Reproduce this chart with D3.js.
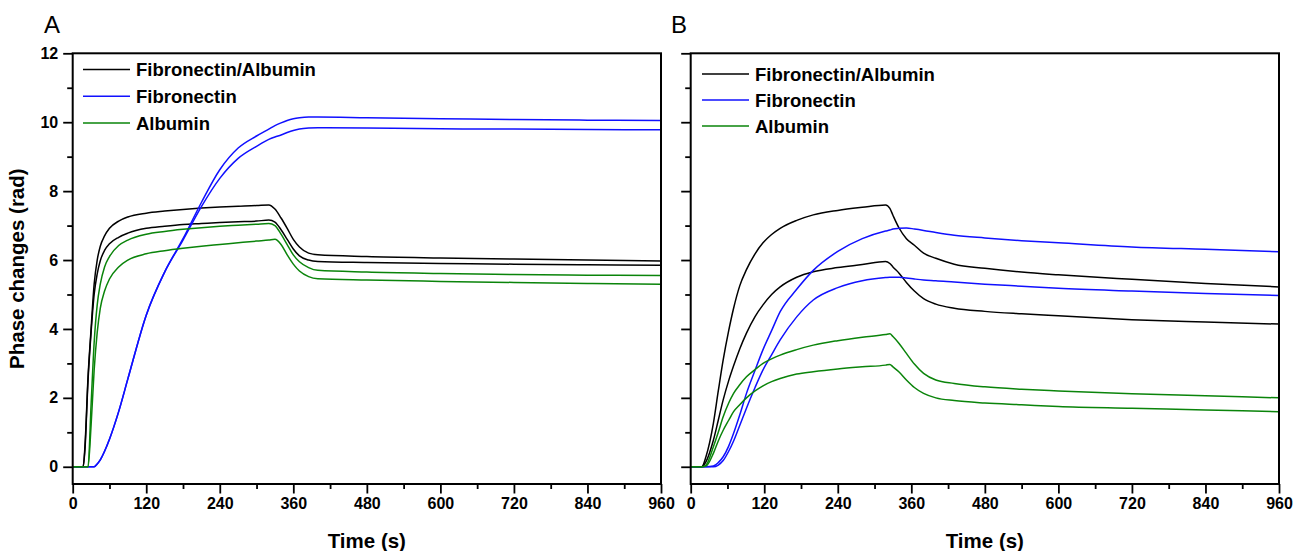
<!DOCTYPE html>
<html><head><meta charset="utf-8">
<script src="https://cdn.jsdelivr.net/npm/d3@7/dist/d3.min.js"></script>
<style>
body{margin:0;background:#fff}
text{font-family:"Liberation Sans",Arial,sans-serif}
</style>
</head><body>
<svg id="c" width="1294" height="551"></svg>
<script>
// ---------------- data ----------------
const seriesNames = ["Fibronectin/Albumin", "Fibronectin", "Albumin"];
const seriesColors = ["#000000", "#1010ff", "#0a840a"];
const xMajorTicks = [0, 120, 240, 360, 480, 600, 720, 840, 960];
const xMinorTicks = [60, 180, 300, 420, 540, 660, 780, 900];
const yMajorTicks = [0, 2, 4, 6, 8, 10, 12];
const yMinorTicks = [1, 3, 5, 7, 9, 11];
const panelLabels = ["A", "B"];
const xTitle = "Time (s)";
const yTitle = "Phase changes (rad)";

// Panel A
const timeA = [0,17,20,25,30,35,40,45,52,60,75,90,120,150,180,210,240,270,300,320,330,340,350,360,370,385,400,480,600,720,840,960];
const fibAlbA1 = [0,0,0.6,2.6,4.0,5.3,6.0,6.4,6.7,6.92,7.13,7.25,7.36,7.42,7.47,7.51,7.54,7.56,7.58,7.6,7.48,7.22,6.92,6.6,6.38,6.2,6.15,6.1,6.06,6.03,6.0,5.97];
const fibAlbA2 = [0,0,0.5,2.5,3.9,5.0,5.6,5.98,6.28,6.47,6.66,6.78,6.92,6.98,7.03,7.06,7.09,7.11,7.13,7.16,7.1,6.88,6.6,6.32,6.12,6.0,5.96,5.93,5.9,5.88,5.86,5.85];
const fibA1 = [0,0,0,0,0,0,0.08,0.2,0.45,0.8,1.6,2.55,4.4,5.65,6.62,7.67,8.62,9.25,9.6,9.8,9.9,9.98,10.05,10.1,10.13,10.15,10.15,10.13,10.1,10.08,10.06,10.05];
const fibA2 = [0,0,0,0,0,0,0.08,0.2,0.45,0.8,1.6,2.55,4.4,5.65,6.58,7.55,8.37,8.95,9.3,9.5,9.57,9.63,9.7,9.76,9.8,9.83,9.84,9.83,9.81,9.8,9.79,9.78];
const albA1 = [0,0,0,0,1.8,3.6,4.7,5.3,5.8,6.1,6.42,6.58,6.75,6.83,6.89,6.94,6.98,7.01,7.04,7.06,7.0,6.75,6.45,6.15,5.95,5.78,5.7,5.65,5.61,5.58,5.56,5.55];
const albA2 = [0,0,0,0,1.2,2.8,3.9,4.6,5.1,5.45,5.8,6.0,6.18,6.27,6.34,6.4,6.45,6.5,6.55,6.58,6.6,6.45,6.15,5.88,5.68,5.52,5.46,5.42,5.38,5.35,5.32,5.3];

// Panel B
const timeB = [0,18,25,37,45,53,62,70,80,91,105,118,132,146,173,200,240,280,318,325,330,340,352,365,380,400,430,480,540,600,720,840,960];
const fibAlbB1 = [0,0,0.3,1.26,2.2,3.1,3.95,4.6,5.25,5.72,6.18,6.5,6.74,6.92,7.15,7.31,7.44,7.53,7.6,7.5,7.3,6.93,6.62,6.43,6.2,6.05,5.88,5.76,5.65,5.57,5.44,5.32,5.22];
const fibAlbB2 = [0,0,0.15,0.77,1.35,1.94,2.5,2.93,3.42,3.88,4.36,4.7,5.0,5.22,5.5,5.66,5.78,5.87,5.96,5.9,5.8,5.62,5.35,5.1,4.88,4.72,4.6,4.51,4.44,4.38,4.27,4.2,4.14];
const fibB1 = [0,0,0,0.02,0.12,0.29,0.6,0.97,1.5,2.13,2.8,3.4,3.95,4.5,5.15,5.7,6.25,6.62,6.84,6.87,6.9,6.92,6.93,6.9,6.86,6.8,6.72,6.64,6.56,6.5,6.38,6.31,6.24];
const fibB2 = [0,0,0,0,0.05,0.18,0.45,0.75,1.2,1.7,2.3,2.81,3.25,3.68,4.35,4.84,5.2,5.4,5.49,5.5,5.5,5.5,5.48,5.45,5.42,5.4,5.36,5.3,5.24,5.18,5.1,5.03,4.97];
const albB1 = [0,0,0.05,0.58,1.0,1.45,1.85,2.13,2.38,2.61,2.82,3.0,3.13,3.24,3.4,3.53,3.66,3.76,3.84,3.86,3.78,3.58,3.29,2.98,2.71,2.52,2.42,2.32,2.25,2.2,2.12,2.06,2.0];
const albB2 = [0,0,0.02,0.39,0.75,1.06,1.35,1.6,1.8,2.0,2.2,2.35,2.47,2.56,2.69,2.76,2.84,2.9,2.95,2.97,2.9,2.75,2.52,2.3,2.13,2.0,1.92,1.85,1.8,1.75,1.7,1.65,1.6];

// ---------------- drawing ----------------
const svg = d3.select("#c");
const yScale = d3.scaleLinear().domain([-0.5, 12]).range([484, 53.3]);

const panels = [
  {label: panelLabels[0], x0: 72.7, x1: 661, labelX: 44, yLabels: true, legendX: 83, legendY: 69.5, legendDy: 26.7,
   time: timeA, series: [[fibAlbA1, 0], [fibAlbA2, 0], [fibA1, 1], [fibA2, 1], [albA1, 2], [albA2, 2]]},
  {label: panelLabels[1], x0: 690.7, x1: 1279, labelX: 671, yLabels: false, legendX: 702, legendY: 74, legendDy: 26,
   time: timeB, series: [[fibAlbB1, 0], [fibAlbB2, 0], [fibB1, 1], [fibB2, 1], [albB1, 2], [albB2, 2]]}
];

panels.forEach(p => {
  const x = d3.scaleLinear().domain([0, 960]).range([p.x0, p.x1]);
  const g = svg.append("g");

  const line = d3.line().x(d => x(d[0])).y(d => yScale(d[1])).curve(d3.curveMonotoneX);
  p.series.forEach(([vals, ci]) => {
    const pts = p.time.map((t, i) => [t, vals[i]]);
    g.append("path").attr("d", line(pts)).attr("fill", "none")
      .attr("stroke", seriesColors[ci]).attr("stroke-width", 1.5).attr("stroke-linejoin", "round");
  });

  const xMin = g.append("g").attr("transform", `translate(0,${yScale(-0.5)})`)
    .call(d3.axisBottom(x).tickValues(xMinorTicks).tickSize(5).tickFormat(""));
  const xMaj = g.append("g").attr("transform", `translate(0,${yScale(-0.5)})`)
    .call(d3.axisBottom(x).tickValues(xMajorTicks).tickSize(9.5).tickPadding(4).tickFormat(d3.format("d")));
  const yMin = g.append("g").attr("transform", `translate(${p.x0},0)`)
    .call(d3.axisLeft(yScale).tickValues(yMinorTicks).tickSize(5.5).tickFormat(""));
  const yMaj = g.append("g").attr("transform", `translate(${p.x0},0)`)
    .call(d3.axisLeft(yScale).tickValues(yMajorTicks).tickSize(9.5).tickPadding(5)
      .tickFormat(p.yLabels ? d3.format("d") : ""));

  [xMin, xMaj, yMin, yMaj].forEach(a => {
    a.select(".domain").remove();
    a.selectAll(".tick line").attr("stroke", "#000").attr("stroke-width", 1.8);
    a.selectAll(".tick text").attr("fill", "#000").style("font-size", "16px").style("font-weight", "bold")
      .style("font-family", '"Liberation Sans", Arial, sans-serif');
  });

  g.append("rect").attr("x", p.x0).attr("y", yScale(12)).attr("width", p.x1 - p.x0)
    .attr("height", yScale(-0.5) - yScale(12)).attr("fill", "none").attr("stroke", "#000").attr("stroke-width", 2);

  g.append("text").attr("x", (p.x0 + p.x1) / 2).attr("y", 548).attr("text-anchor", "middle")
    .style("font-size", "20.5px").style("font-weight", "bold").text(xTitle);

  g.append("text").attr("x", p.labelX).attr("y", 33).style("font-size", "24px").text(p.label);

  seriesNames.forEach((n, i) => {
    const yy = p.legendY + i * p.legendDy;
    g.append("line").attr("x1", p.legendX).attr("x2", p.legendX + 47).attr("y1", yy).attr("y2", yy)
      .attr("stroke", seriesColors[i]).attr("stroke-width", 1.5);
    g.append("text").attr("x", p.legendX + 53).attr("y", yy).attr("dy", "0.36em")
      .style("font-size", "18.5px").style("font-weight", "bold").text(n);
  });
});

svg.append("text").attr("transform", `translate(24,${(yScale(12) + yScale(-0.5)) / 2}) rotate(-90)`)
  .attr("text-anchor", "middle").style("font-size", "20.5px").style("font-weight", "bold").text(yTitle);
</script>
</body></html>
